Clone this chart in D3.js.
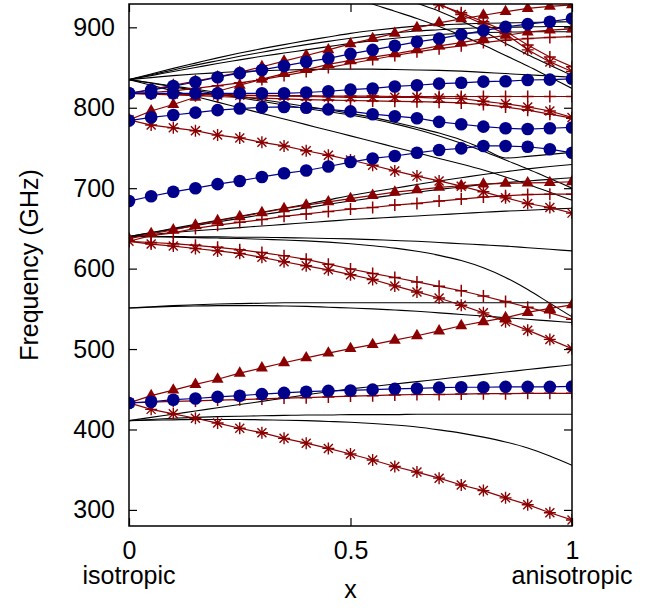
<!DOCTYPE html>
<html lang="en">
<head>
<meta charset="utf-8">
<title>Frequency vs x</title>
<script src="https://cdn.jsdelivr.net/npm/d3@7/dist/d3.min.js"></script>
<style>
  body { margin: 0; background: #fff; }
  text { font-family: "Liberation Sans", Arial, sans-serif; fill: #000; }
</style>
</head>
<body>
<script>
// x positions of every computed point (isotropic -> anisotropic)
var xs = [0, 0.05, 0.1, 0.15, 0.2, 0.25, 0.3, 0.35, 0.4, 0.45, 0.5,
          0.55, 0.6, 0.65, 0.7, 0.75, 0.8, 0.85, 0.9, 0.95, 1];
var _ = null;

// black: reference modes (no symbols)
var black1  = [835, 842, 849, 855.5, 862, 868, 873.5, 878.5, 883.5, 888, 892.5, 896, 899, 901.5, 903, 904, 905, 905.5, 906, 906.5, 907];
var black2  = [835, 841, 847, 853, 858.5, 864, 869, 874, 878.5, 882.5, 886.5, 890, 893, 895.5, 897, 898.5, 899.5, 900, 900.5, 901, 901];
var black3  = [835, 840, 845, 850, 855, 859.5, 864, 868, 872, 876, 880, 883.5, 886.5, 889, 891, 892.5, 893.5, 894, 894.5, 894.5, 894.5];
var black4  = [835, 837.5, 840, 842, 843.5, 845, 846, 847, 847.5, 848, 848, 848, 847.5, 847, 846.5, 845.5, 844, 842.5, 841, 839.5, 838];
var black5  = [835, 831, 827, 823, 819, 814.5, 810, 806, 801.5, 797.5, 793, 788, 782, 775.5, 768.5, 760, 749, 737.5, 739.5, 742, 744.5];
var black6  = [835, 830.5, 826, 821.5, 817, 812.5, 808, 803.5, 799, 795, 791, 786, 780, 773, 765, 756, 746, 735, 724, 712, 700];
var black7  = [835, 828, 821, 814, 807, 800, 793, 786, 779, 772, 765, 758, 751, 744, 737, 730, 722.5, 714, 705, 695, 685];
var black8  = [640, 645, 650, 655, 660, 665, 670, 675, 680, 685.5, 691, 695.5, 700, 704.5, 709, 713, 717, 720.5, 724, 727, 729.5];
var black9  = [640, 644.5, 649, 653.5, 658, 662.5, 667, 671, 675.5, 680, 684, 688, 691.5, 695, 698.5, 701.5, 704.5, 707, 709, 711, 713];
var black10 = [640, 642.5, 645, 647, 649, 651, 653, 655, 657, 659, 661, 662.5, 664, 665.5, 667, 668.5, 670, 671.5, 672.5, 674, 675];
var black11 = [640, 640, 640, 639.5, 639.5, 639, 639, 638.5, 638, 637.5, 637, 636, 635, 634, 632.5, 631, 629.5, 628, 626, 624, 622];
var black12 = [640, 639.5, 639, 638.5, 638, 637.5, 636.5, 635.5, 634.5, 633, 631, 628.5, 625.5, 621.5, 616.5, 610, 601, 589, 574, 557, 540];
var black13 = [551, 552.5, 554, 555, 556, 556.5, 557, 557.5, 557.5, 557.5, 557.5, 557.5, 557.5, 557.5, 557.5, 557.5, 557.5, 557.5, 557.5, 557.5, 557.5];
var black14 = [551, 552, 553, 553.5, 554, 554, 554, 553.5, 553, 552, 551, 550, 548.5, 547, 545, 543, 541, 539, 537, 535, 533];
var black15 = [411, 415, 419, 423, 427, 431, 435, 439, 443, 447, 450.5, 453.5, 456.5, 459.5, 462.5, 465.5, 468.5, 471.5, 474.5, 477.5, 480.5];
var black16 = [411, 412.5, 414, 415, 416, 416.5, 417, 417.5, 418, 418, 418.5, 418.5, 418.5, 419, 419, 419, 419, 419, 419, 419, 419];
var black17 = [411, 411.5, 412, 412.5, 412.5, 412.5, 412, 411.5, 411, 410, 409, 407.5, 405.5, 403, 399.5, 395.5, 390.5, 384.5, 377, 367, 355.5];
var black18 = [_, _, _, _, _, _, _, _, _, _, 940, 929, 920, 911, 901, 890, 878, 865, 852, 838, 824];
var black19 = [_, _, _, _, _, _, _, _, _, _, _, _, 940, 930, 920, 908, 895, 880, 866, 853, 840];

// dark red, triangles
var tri1 = [433, 442, 449, 456, 462.5, 470, 476.5, 483, 489, 495, 500.5, 505.5, 511, 516.5, 522.5, 529, 534, 539, 545.5, 550.5, 555];
var tri2 = [637, 643.5, 648, 654, 659.5, 664.5, 669.5, 674.5, 679, 683, 687, 691, 695, 698, 701, 703, 705, 706, 706.5, 707, 708];
var tri3 = [785, 796, 804, 813, 820.5, 828, 835.5, 842.5, 847.5, 854, 859, 863, 867, 872, 877, 881, 886, 890, 894, 896.5, 898];
var tri4 = [818, 823, 828, 833, 838.5, 844, 851, 858, 865, 872, 879.5, 886, 892.5, 899.5, 905.5, 910.5, 915, 919.5, 923.5, 926, 928];

// dark red, plus
var plus1 = [433, 434, 435, 435.5, 436.5, 437, 438, 439, 439.5, 440.5, 441.5, 442, 443, 443.5, 443.5, 444, 444.5, 444.5, 445, 445, 445];
var plus2 = [634, 641, 644.5, 650, 654, 657.5, 661, 665, 668, 671, 674, 676, 679, 681, 684, 686.5, 689, 690.5, 692, 692.5, 692.5];
var plus3 = [634, 632.5, 631, 629, 626.5, 623.5, 620, 616, 611.5, 605.5, 599.5, 594, 589, 583.5, 578, 572.5, 566, 559, 552, 545, 537];
var plus4 = [818, 817.5, 817, 816.5, 816, 815.5, 815.5, 815, 815, 814.5, 814.5, 814.5, 814, 814, 814, 814, 814, 814, 814, 814, 814];
var plus5 = [818, 817, 816, 815, 814, 813, 812, 811, 810, 809.5, 809, 808.5, 808, 807.5, 807, 806, 804, 801, 797, 792, 787];
var plus6 = [818, 819, 821, 824, 827.5, 831, 835, 840, 845, 850, 855, 860, 865, 869.5, 873.5, 877, 881, 884, 886, 887.5, 888.5];
var plus7 = [_, _, _, _, _, _, _, _, _, _, _, _, _, 940, 928, 918, 907, 895, 878, 863, 851];

// dark red, asterisks
var star1 = [433, 425, 419.5, 414, 408, 401.5, 396, 389, 383, 376.5, 369.5, 362, 354, 347, 339.5, 331, 324, 315, 306.5, 296.5, 287.5];
var star2 = [634, 630.5, 628, 625, 622, 619, 614, 608.5, 603.5, 598.5, 592.5, 586.5, 578.5, 571, 563.5, 554.5, 545, 534, 523.5, 512, 500.5];
var star3 = [785, 778.5, 775, 771.5, 766, 762.5, 757, 752.5, 746.5, 741, 735, 728.5, 721.5, 715, 709, 702.5, 695.5, 688, 681, 676, 669];
var star4 = [818, 817.5, 817, 816.5, 816, 815.5, 815, 814.5, 814, 813.5, 813, 813, 813, 813, 812, 811.5, 808, 805, 801, 796, 788];
var star5 = [_, _, _, _, _, _, _, _, _, _, _, _, _, 942, 929, 916, 904, 892, 872, 857, 845];

// dark blue, circles
var circ1 = [818, 822, 827, 832, 838, 843, 847, 852, 857, 861.5, 867, 872, 877, 882, 886, 891, 896, 900.5, 904, 907, 911];
var circ2 = [818, 818, 818, 818, 818, 818, 818, 818, 819, 820.5, 822.5, 824, 826.5, 828, 830, 831, 832.5, 833, 834.5, 835, 836];
var circ3 = [784, 788, 791, 794, 797, 799, 800.5, 801, 800, 798, 795.5, 792, 789.5, 787, 782.5, 779.5, 776.5, 774.5, 773.5, 774.5, 775.5];
var circ4 = [684, 690, 695.5, 700, 705, 709, 714, 718.5, 722, 727, 732.5, 737, 740, 744, 747.5, 749.5, 752.5, 752.5, 751.5, 748.5, 744];
var circ5 = [433, 434.5, 437, 438.5, 440.5, 442, 444, 445.5, 447, 448, 448.5, 449.5, 450.5, 451, 452, 452.5, 452.5, 453, 453, 453, 453.5];

var yTicks = [300, 400, 500, 600, 700, 800, 900];
var xTicks = [0, 0.5, 1];
var xNames = ["isotropic", "anisotropic"];

var blackSeries = [black1, black2, black3, black4, black5, black6, black7, black8, black9, black10,
                   black11, black12, black13, black14, black15, black16, black17, black18, black19];
var triSeries = [tri1, tri2, tri3, tri4];
var plusSeries = [plus1, plus2, plus3, plus4, plus5, plus6, plus7];
var starSeries = [star1, star2, star3, star4, star5];
var circSeries = [circ1, circ2, circ3, circ4, circ5];

var red = "#8b0000", blue = "#00008b";
var fontSize = 25;

var margin = {top: 4, right: 90, bottom: 82, left: 129};
var w = 662 - margin.left - margin.right;
var h = 608 - margin.top - margin.bottom;

var x = d3.scaleLinear().domain([0, 1]).range([0, w]);
var y = d3.scaleLinear().domain([280, 929]).range([h, 0]);

var svg = d3.select("body").append("svg")
    .attr("width", 662).attr("height", 608);

svg.append("defs").append("clipPath").attr("id", "clip")
  .append("rect").attr("width", w).attr("height", h);

var g = svg.append("g")
    .attr("transform", "translate(" + margin.left + "," + margin.top + ")");

function pts(s) {
  return xs.map(function(v, i) { return [v, s[i]]; })
           .filter(function(d) { return d[1] != null; });
}

var line = d3.line()
    .x(function(d) { return x(d[0]); })
    .y(function(d) { return y(d[1]); });

var plot = g.append("g").attr("clip-path", "url(#clip)");

// black reference curves
plot.selectAll(".ref")
    .data(blackSeries)
  .enter().append("path")
    .attr("class", "ref")
    .attr("fill", "none")
    .attr("stroke", "#000")
    .attr("stroke-width", 1.1)
    .attr("d", function(s) { return line.curve(d3.curveMonotoneX)(pts(s)); });

line.curve(d3.curveLinear);

function drawSeries(list, color, cls, marker) {
  var grp = plot.append("g").attr("class", cls);
  list.forEach(function(s) {
    var p = pts(s);
    grp.append("path")
      .attr("fill", "none")
      .attr("stroke", color)
      .attr("stroke-width", 1.2)
      .attr("d", line(p));
    marker(grp.selectAll(null).data(p).enter());
  });
}

drawSeries(plusSeries, red, "plus", function(sel) {
  sel.append("path")
    .attr("transform", function(d) { return "translate(" + x(d[0]) + "," + y(d[1]) + ")"; })
    .attr("d", "M-6,0H6M0,-6V6")
    .attr("stroke", red).attr("stroke-width", 1.5);
});

drawSeries(starSeries, red, "star", function(sel) {
  sel.append("path")
    .attr("transform", function(d) { return "translate(" + x(d[0]) + "," + y(d[1]) + ")"; })
    .attr("d", "M-6,0H6M0,-6V6M-4.5,-4.5L4.5,4.5M-4.5,4.5L4.5,-4.5")
    .attr("stroke", red).attr("stroke-width", 1.4);
});

drawSeries(triSeries, red, "tri", function(sel) {
  sel.append("path")
    .attr("transform", function(d) { return "translate(" + x(d[0]) + "," + y(d[1]) + ")"; })
    .attr("d", d3.symbol().type(d3.symbolTriangle).size(62))
    .attr("fill", red);
});

drawSeries(circSeries, blue, "circ", function(sel) {
  sel.append("circle")
    .attr("cx", function(d) { return x(d[0]); })
    .attr("cy", function(d) { return y(d[1]); })
    .attr("r", 6.3)
    .attr("fill", blue);
});

// axes, gnuplot style: inward ticks mirrored on all sides
var yAxis = d3.axisLeft(y).tickValues(yTicks).tickSize(-8).tickPadding(14);
var yAxisR = d3.axisRight(y).tickValues(yTicks).tickSize(-8).tickFormat("");
var xAxis = d3.axisBottom(x).tickValues(xTicks).tickSize(-8).tickPadding(15)
    .tickFormat(function(d) { return d3.format("")(d); });
var xAxisT = d3.axisTop(x).tickValues(xTicks).tickSize(-8).tickFormat("");

g.append("g").attr("class", "axis").call(yAxis);
g.append("g").attr("class", "axis").attr("transform", "translate(" + w + ",0)").call(yAxisR);
g.append("g").attr("class", "axis").attr("transform", "translate(0," + h + ")").call(xAxis);
g.append("g").attr("class", "axis").call(xAxisT);

g.selectAll(".axis .domain").remove();
g.selectAll(".axis line").attr("stroke", "#000").attr("stroke-width", 1.2);
g.selectAll(".axis text").attr("font-size", fontSize)
    .attr("font-family", "'Liberation Sans', Arial, sans-serif").attr("fill", "#000");

g.append("rect")
    .attr("width", w).attr("height", h)
    .attr("fill", "none").attr("stroke", "#000").attr("stroke-width", 1.5);

// end labels under the x axis
g.selectAll(".xname")
    .data(xNames)
  .enter().append("text")
    .attr("class", "xname")
    .attr("x", function(d, i) { return x(i); })
    .attr("y", h + 58)
    .attr("text-anchor", "middle")
    .attr("font-size", fontSize)
    .text(function(d) { return d; });

g.append("text")
    .attr("x", w / 2).attr("y", h + 72)
    .attr("text-anchor", "middle")
    .attr("font-size", fontSize)
    .text("x");

g.append("text")
    .attr("transform", "translate(" + (-91) + "," + (h / 2) + ") rotate(-90)")
    .attr("text-anchor", "middle")
    .attr("font-size", fontSize)
    .text("Frequency (GHz)");
</script>
</body>
</html>
